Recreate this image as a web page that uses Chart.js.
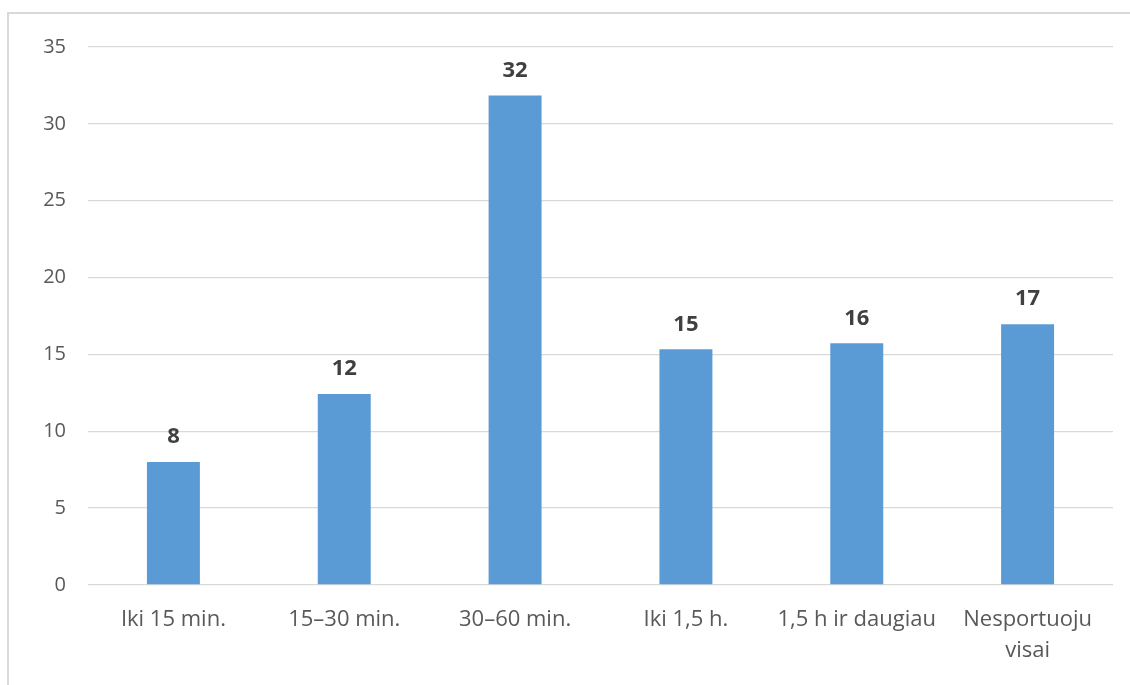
<!DOCTYPE html>
<html>
<head>
<meta charset="utf-8">
<script src="https://cdn.jsdelivr.net/npm/chart.js@4.4.1/dist/chart.umd.min.js"></script>
<style>
  html, body { margin: 0; padding: 0; background: #fff; }
  #wrap { position: relative; width: 1130px; height: 685px; overflow: hidden; }
  #frame { position: absolute; left: 7px; top: 12px; width: 1140px; height: 700px;
           border-top: 2px solid #d9d9d9; border-left: 2px solid #d9d9d9; box-sizing: border-box; }
  canvas { position: absolute; left: 0; top: 0; }
</style>
</head>
<body>
<div id="wrap">
  <div id="frame"></div>
  <canvas id="c" width="1130" height="685"></canvas>
</div>
<script>
const categories = ["Iki 15 min.", "15–30 min.", "30–60 min.", "Iki 1,5 h.", "1,5 h ir daugiau", ["Nesportuoju", "visai"]];
const values = [8.0, 12.43, 31.85, 15.33, 15.72, 16.97];
const dataLabels = ["8", "12", "32", "15", "16", "17"];
const yTicks = [0, 5, 10, 15, 20, 25, 30, 35];

const FONT = "'Open Sans', Lato, sans-serif";

const labelPlugin = {
  id: 'barLabels',
  afterDatasetsDraw(chart) {
    const ctx = chart.ctx;
    const meta = chart.getDatasetMeta(0);
    ctx.save();
    ctx.font = "bold 22px " + FONT;
    ctx.fillStyle = "#404040";
    ctx.textAlign = "center";
    ctx.textBaseline = "middle";
    meta.data.forEach((bar, i) => {
      ctx.fillText(dataLabels[i], bar.x, bar.y - 25);
    });
    ctx.restore();
  }
};

new Chart(document.getElementById('c'), {
  type: 'bar',
  data: {
    labels: categories,
    datasets: [{
      data: values,
      backgroundColor: '#5b9bd5',
      borderWidth: 0,
      barPercentage: 0.62,
      categoryPercentage: 0.5
    }]
  },
  options: {
    responsive: false,
    animation: false,
    layout: { padding: { left: 0, right: 17, top: 47, bottom: 0 } },
    plugins: { legend: { display: false }, tooltip: { enabled: false } },
    scales: {
      x: {
        grid: { display: false, drawTicks: false },
        border: { display: false },
        ticks: { color: '#595959', padding: 19, maxRotation: 0, autoSkip: false,
                 font: { family: FONT, size: 22, lineHeight: 1.41 } },
        afterFit(scale) { scale.height = 100; }
      },
      y: {
        min: 0, max: 35,
        afterBuildTicks(scale) { scale.ticks = yTicks.map(v => ({ value: v })); },
        grid: { color: '#d9d9d9', lineWidth: 1.3, drawTicks: false },
        border: { display: false },
        ticks: { color: '#595959', font: { family: FONT, size: 20 }, padding: 22 },
        afterFit(scale) { scale.width = 88; }
      }
    }
  },
  plugins: [labelPlugin]
});
</script>
</body>
</html>
